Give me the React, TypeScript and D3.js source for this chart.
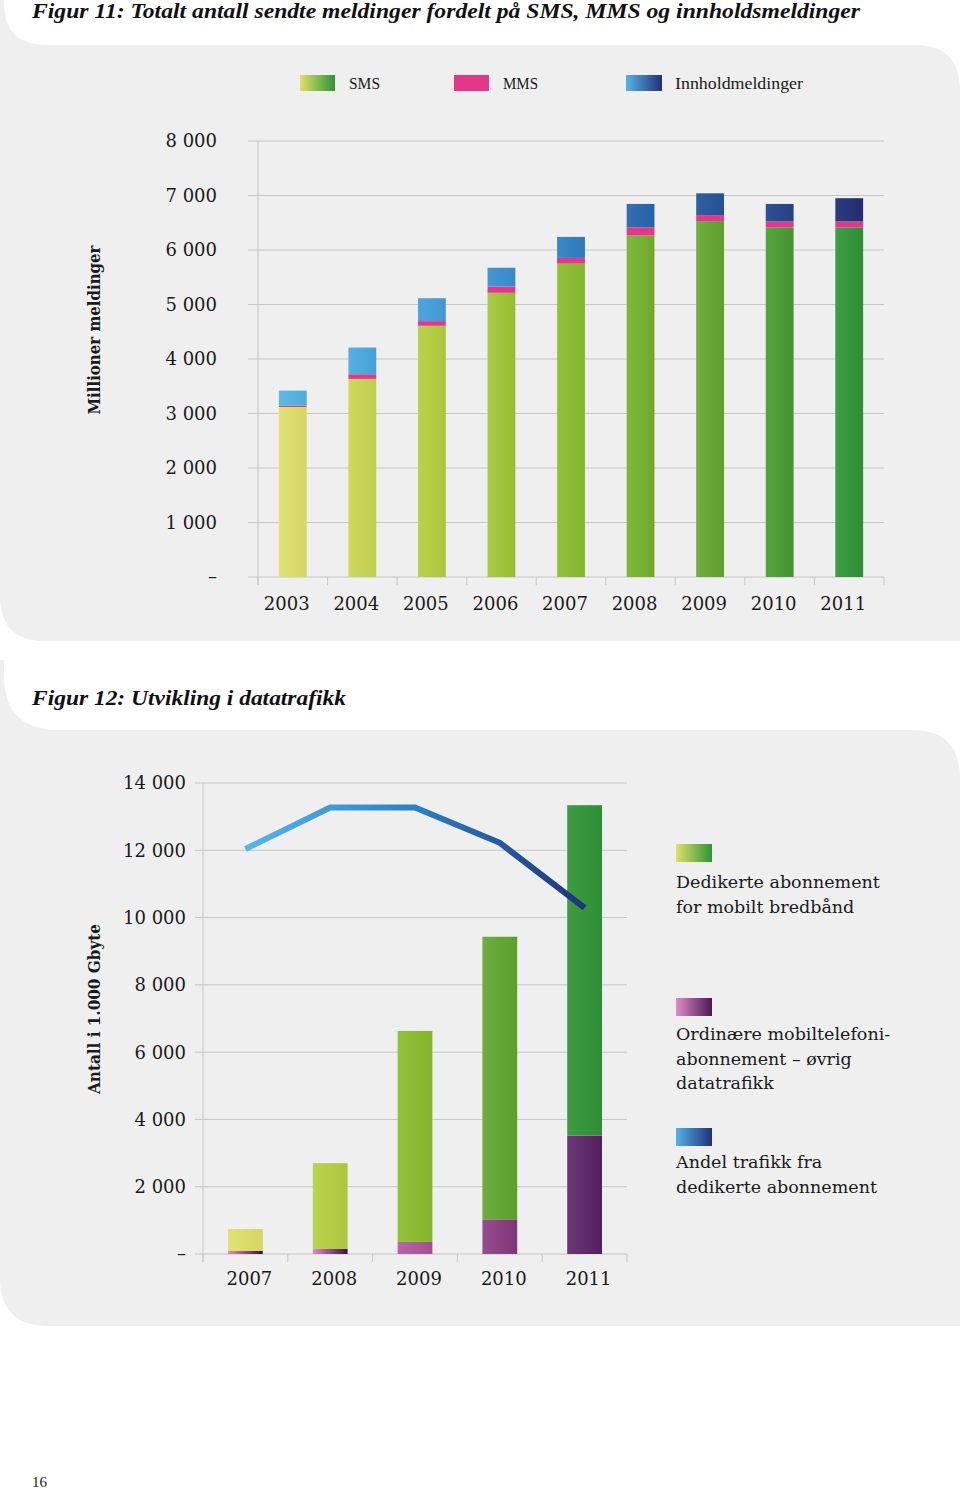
import React from 'react';
import * as d3 from 'd3';

// ---------- Figure 11 data ----------
const years1 = ['2003', '2004', '2005', '2006', '2007', '2008', '2009', '2010', '2011'];
const smsValues = [3120, 3635, 4610, 5215, 5750, 6270, 6530, 6415, 6415];
const mmsValues = [25, 85, 85, 115, 105, 145, 110, 110, 110];
const contentValues = [275, 490, 420, 345, 385, 430, 400, 320, 425];
const yTicks1 = [0, 1000, 2000, 3000, 4000, 5000, 6000, 7000, 8000];
const yTickLabels1 = ['–', '1 000', '2 000', '3 000', '4 000', '5 000', '6 000', '7 000', '8 000'];
const legend1 = ['SMS', 'MMS', 'Innholdmeldinger'];

// ---------- Figure 12 data ----------
const years2 = ['2007', '2008', '2009', '2010', '2011'];
const ordinaryValues = [90, 150, 360, 1030, 3520];
const dedicatedValues = [650, 2550, 6270, 8400, 9820];
const dedicatedShare = [86, 94.8, 94.8, 87.3, 73.5]; // percent, hidden secondary axis
const yTicks2 = [0, 2000, 4000, 6000, 8000, 10000, 12000, 14000];
const yTickLabels2 = ['–', '2 000', '4 000', '6 000', '8 000', '10 000', '12 000', '14 000'];
const legend2 = [
  ['Dedikerte abonnement', 'for mobilt bredbånd'],
  ['Ordinære mobiltelefoni-', 'abonnement – øvrig', 'datatrafikk'],
  ['Andel trafikk fra', 'dedikerte abonnement'],
];

// ---------- palettes ----------
const smsPalette = ['#dfe068', '#c8d84e', '#b4cf3e', '#a0c536', '#8abd2c', '#75b22c', '#62a72e', '#479d31', '#2e9536'];
const contentPalette = ['#56b3e6', '#4aaae0', '#459fdc', '#3a8fd0', '#2f7fc4', '#2866ac', '#25559c', '#23458a', '#222f77'];
const mmsColor = '#e2388a';
const dedicatedPalette = ['#dfe068', '#b5cf3f', '#8abd2b', '#5fa72f', '#2e9535'];
const ordinaryPalette = ['#8a3a84', '#8a3a84', '#b1559e', '#8a3a84', '#5a2266'];

const GREY = '#efefef';
const GRID = '#c6c6c6';
const TEXT = '#1a1a1a';
const SERIF = '"DejaVu Serif", serif';
const TIMES = '"Liberation Serif", serif';

function panelPath(top: number, titleBottom: number, bottom: number, r: number) {
  return `M0,${top} L${r},${top} L${r},${titleBottom} L${960 - r},${titleBottom} Q960,${titleBottom} 960,${titleBottom + r}
    L960,${bottom} L${r},${bottom} Q0,${bottom} 0,${bottom - r} Z`;
}
function titleCutPath(top: number, titleBottom: number, r: number) {
  return `M4,${top} L960,${top} L960,${titleBottom} L${4 + r},${titleBottom} Q4,${titleBottom} 4,${titleBottom - r} Z`;
}

function shade(c: string, k: number) {
  return d3.interpolateRgb(c, k > 0 ? '#ffffff' : '#000000')(Math.abs(k));
}

export default function App() {
  const x1 = d3.scaleBand<string>().domain(years1).range([258, 884]).paddingInner(0.6).paddingOuter(0.3);
  const y1 = d3.scaleLinear().domain([0, 8000]).range([577, 141]);
  const step1 = x1.step();
  const bounds1 = d3.range(years1.length + 1).map((i) => 258 + i * step1);

  const x2 = d3.scaleBand<string>().domain(years2).range([203, 627]).paddingInner(0.59).paddingOuter(0.295);
  const y2 = d3.scaleLinear().domain([0, 14000]).range([1254, 783]);
  const yShare = d3.scaleLinear().domain([0, 100]).range([1254, 783]);
  const step2 = x2.step();
  const bounds2 = d3.range(years2.length + 1).map((i) => 203 + i * step2);
  const linePath = d3
    .line<number>()
    .x((_, i) => (x2(years2[i]) as number) + x2.bandwidth() / 2)
    .y((d) => yShare(d))(dedicatedShare) as string;

  const legendX1 = [300, 454, 626];
  const legendTextX1 = [349, 503, 675];
  const legendTextLen1 = [31, 35, 128];

  return (
    <svg width={960} height={1489} style={{ position: 'absolute', left: 0, top: 0, display: 'block' }} xmlns="http://www.w3.org/2000/svg">
      <defs>
        <linearGradient id="lgSms" x1="0" x2="1" y1="0" y2="0">
          <stop offset="0" stopColor="#dfe068" />
          <stop offset="1" stopColor="#2e9536" />
        </linearGradient>
        <linearGradient id="lgContent" x1="0" x2="1" y1="0" y2="0">
          <stop offset="0" stopColor="#56b3e6" />
          <stop offset="1" stopColor="#222f77" />
        </linearGradient>
        <linearGradient id="lgOrd" x1="0" x2="1" y1="0" y2="0">
          <stop offset="0" stopColor="#e08bc6" />
          <stop offset="1" stopColor="#4a1a55" />
        </linearGradient>
        <linearGradient id="lgLine" gradientUnits="userSpaceOnUse" x1={245} x2={585} y1={0} y2={0}>
          <stop offset="0" stopColor="#55b6e8" />
          <stop offset="0.5" stopColor="#2f7fc4" />
          <stop offset="1" stopColor="#1e3478" />
        </linearGradient>
        {smsPalette.map((c, i) => (
          <linearGradient key={'gs' + i} id={'gs' + i} x1="0" x2="1" y1="0" y2="0">
            <stop offset="0" stopColor={shade(c, 0.08)} />
            <stop offset="1" stopColor={shade(c, -0.05)} />
          </linearGradient>
        ))}
        {contentPalette.map((c, i) => (
          <linearGradient key={'gc' + i} id={'gc' + i} x1="0" x2="1" y1="0" y2="0">
            <stop offset="0" stopColor={shade(c, 0.06)} />
            <stop offset="1" stopColor={shade(c, -0.05)} />
          </linearGradient>
        ))}
        {dedicatedPalette.map((c, i) => (
          <linearGradient key={'gd' + i} id={'gd' + i} x1="0" x2="1" y1="0" y2="0">
            <stop offset="0" stopColor={shade(c, 0.08)} />
            <stop offset="1" stopColor={shade(c, -0.05)} />
          </linearGradient>
        ))}
        {ordinaryPalette.map((c, i) => (
          <linearGradient key={'go' + i} id={'go' + i} x1="0" x2="1" y1="0" y2="0">
            <stop offset="0" stopColor={i < 2 ? '#e08bc6' : shade(c, 0.1)} />
            <stop offset="1" stopColor={i < 2 ? '#3a1040' : shade(c, -0.08)} />
          </linearGradient>
        ))}
      </defs>

      <rect x={0} y={0} width={960} height={1489} fill="#ffffff" />

      {/* ===== Panel 1 ===== */}
      <path d={panelPath(0, 45, 641, 45)} fill={GREY} />
      <path d={titleCutPath(0, 45, 42)} fill="#ffffff" />
      <text x={32} y={18} fontFamily={TIMES} fontWeight="bold" fontStyle="italic" fontSize={20} fill="#111" textLength={828} lengthAdjust="spacingAndGlyphs">
        Figur 11: Totalt antall sendte meldinger fordelt på SMS, MMS og innholdsmeldinger
      </text>

      {/* legend 1 */}
      <rect x={legendX1[0]} y={75} width={35} height={16} fill="url(#lgSms)" />
      <rect x={legendX1[1]} y={75} width={35} height={16} fill={mmsColor} />
      <rect x={legendX1[2]} y={75} width={36} height={16} fill="url(#lgContent)" />
      {legend1.map((t, i) => (
        <text key={t} x={legendTextX1[i]} y={89} fontFamily={TIMES} fontSize={17} fill={TEXT} textLength={legendTextLen1[i]} lengthAdjust="spacingAndGlyphs">
          {t}
        </text>
      ))}

      {/* grid 1 */}
      {yTicks1.map((t) => (
        <line key={t} x1={248} x2={884} y1={y1(t)} y2={y1(t)} stroke={GRID} strokeWidth={1} />
      ))}
      <line x1={258} x2={258} y1={141} y2={585} stroke={GRID} strokeWidth={1} />
      {bounds1.map((bx, i) => (
        <line key={i} x1={bx} x2={bx} y1={577} y2={585} stroke={GRID} strokeWidth={1} />
      ))}
      {yTicks1.map((t, i) => (
        <text key={t} x={217} y={y1(t)} dy="0.36em" textAnchor="end" fontFamily={SERIF} fontSize={18} fill={TEXT}>
          {yTickLabels1[i]}
        </text>
      ))}
      {years1.map((yr) => (
        <text key={yr} x={(x1(yr) as number) + x1.bandwidth() / 2 - 6} y={610} textAnchor="middle" fontFamily={SERIF} fontSize={18} fill={TEXT}>
          {yr}
        </text>
      ))}
      <text transform={`translate(100,330) rotate(-90)`} textAnchor="middle" fontFamily={SERIF} fontWeight="bold" fontSize={16} fill={TEXT} textLength={169} lengthAdjust="spacingAndGlyphs">
        Millioner meldinger
      </text>

      {/* bars 1 */}
      {years1.map((yr, i) => {
        const bx = x1(yr) as number;
        const bw = x1.bandwidth();
        const s1 = smsValues[i];
        const m1 = s1 + mmsValues[i];
        const c1 = m1 + contentValues[i];
        return (
          <g key={yr}>
            <rect x={bx} y={y1(s1)} width={bw} height={y1(0) - y1(s1)} fill={`url(#gs${i})`} />
            <rect x={bx} y={y1(m1)} width={bw} height={y1(s1) - y1(m1)} fill={mmsColor} />
            <rect x={bx} y={y1(c1)} width={bw} height={y1(m1) - y1(c1)} fill={`url(#gc${i})`} />
          </g>
        );
      })}

      {/* ===== Panel 2 ===== */}
      <path d={panelPath(660, 730, 1326, 48)} fill={GREY} />
      <path d={titleCutPath(655, 730, 55)} fill="#ffffff" />
      <text x={32} y={705} fontFamily={TIMES} fontWeight="bold" fontStyle="italic" fontSize={21} fill="#111" textLength={314} lengthAdjust="spacingAndGlyphs">
        Figur 12: Utvikling i datatrafikk
      </text>

      {/* grid 2 */}
      {yTicks2.map((t) => (
        <line key={t} x1={195} x2={627} y1={y2(t)} y2={y2(t)} stroke={GRID} strokeWidth={1} />
      ))}
      <line x1={203} x2={203} y1={783} y2={1262} stroke={GRID} strokeWidth={1} />
      {bounds2.map((bx, i) => (
        <line key={i} x1={bx} x2={bx} y1={1254} y2={1262} stroke={GRID} strokeWidth={1} />
      ))}
      {yTicks2.map((t, i) => (
        <text key={t} x={186} y={y2(t)} dy="0.36em" textAnchor="end" fontFamily={SERIF} fontSize={18} fill={TEXT}>
          {yTickLabels2[i]}
        </text>
      ))}
      {years2.map((yr) => (
        <text key={yr} x={(x2(yr) as number) + x2.bandwidth() / 2 + 4} y={1285} textAnchor="middle" fontFamily={SERIF} fontSize={18} fill={TEXT}>
          {yr}
        </text>
      ))}
      <text transform={`translate(100,1009) rotate(-90)`} textAnchor="middle" fontFamily={SERIF} fontWeight="bold" fontSize={16} fill={TEXT} textLength={170} lengthAdjust="spacingAndGlyphs">
        Antall i 1.000 Gbyte
      </text>

      {/* bars 2 */}
      {years2.map((yr, i) => {
        const bx = x2(yr) as number;
        const bw = x2.bandwidth();
        const o1 = ordinaryValues[i];
        const d1 = o1 + dedicatedValues[i];
        return (
          <g key={yr}>
            <rect x={bx} y={y2(o1)} width={bw} height={y2(0) - y2(o1)} fill={`url(#go${i})`} />
            <rect x={bx} y={y2(d1)} width={bw} height={y2(o1) - y2(d1)} fill={`url(#gd${i})`} />
          </g>
        );
      })}

      {/* share line */}
      <path d={linePath} fill="none" stroke="url(#lgLine)" strokeWidth={6} strokeLinejoin="miter" />

      {/* legend 2 */}
      <rect x={676} y={844} width={36} height={18} fill="url(#lgSms)" />
      <rect x={676} y={998} width={36} height={18} fill="url(#lgOrd)" />
      <rect x={676} y={1128} width={36} height={18} fill="url(#lgContent)" />
      {legend2[0].map((t, j) => (
        <text key={t} x={676} y={888 + j * 24.5} fontFamily={SERIF} fontSize={17.5} fill={TEXT}>{t}</text>
      ))}
      {legend2[1].map((t, j) => (
        <text key={t} x={676} y={1040 + j * 24.5} fontFamily={SERIF} fontSize={17.5} fill={TEXT}>{t}</text>
      ))}
      {legend2[2].map((t, j) => (
        <text key={t} x={676} y={1168 + j * 24.5} fontFamily={SERIF} fontSize={17.5} fill={TEXT}>{t}</text>
      ))}

      {/* page number */}
      <text x={32} y={1487} fontFamily={TIMES} fontSize={15} fill={TEXT} textLength={15} lengthAdjust="spacingAndGlyphs">16</text>
    </svg>
  );
}
